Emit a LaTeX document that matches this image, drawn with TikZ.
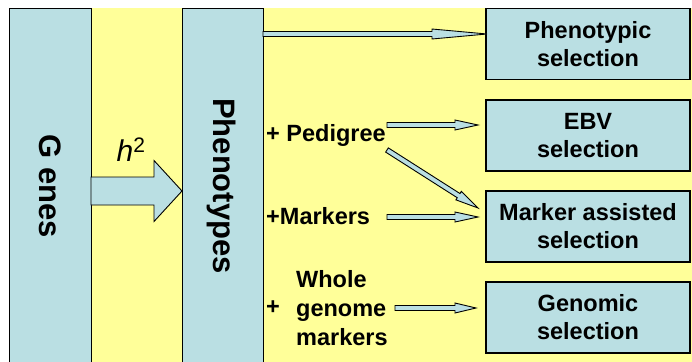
\documentclass[tikz,border=0pt]{standalone}
\usepackage{fontspec}
\setmainfont{Liberation Sans}
\usetikzlibrary{calc}
\definecolor{bgyellow}{RGB}{255,255,153}
\definecolor{boxblue}{RGB}{186,223,227}
% block arrow: from, to, shaft half width, head half width, head length
\newcommand\blockarr[5]{%
  \coordinate (hb) at ($(#2)!#5!(#1)$);
  \path[barrow] ($(#1)!#3!90:(#2)$) -- ($(hb)!#3!90:(#2)$) -- ($(hb)!#4!90:(#2)$)
    -- (#2) -- ($(hb)!#4!-90:(#2)$) -- ($(hb)!#3!-90:(#2)$) -- ($(#1)!#3!-90:(#2)$) -- cycle;}
\begin{document}
\begin{tikzpicture}[x=1pt,y=-1pt,
  panel/.style={draw=black,fill=boxblue,line width=1.2pt,inner sep=0pt},
  sel/.style={panel,minimum width=204pt,minimum height=71pt,align=center,
    font=\fontsize{23.5}{28}\selectfont\bfseries},
  vlabel/.style={rotate=-90,font=\fontsize{31}{33}\selectfont\bfseries},
  lbl/.style={anchor=west,inner sep=0pt,font=\fontsize{23.5}{29}\selectfont\bfseries,align=left},
  barrow/.style={draw=black,fill=boxblue,line width=0.9pt,line join=miter}]
\useasboundingbox (0,0) rectangle (692,361);
\clip (0,0) rectangle (692,361);
\fill[bgyellow] (9,8) rectangle (692,362);
% columns
\node[panel,anchor=north west,minimum width=82pt,minimum height=356pt] (genes) at (9,8) {};
\node[vlabel] (geneslbl) at (50,186) {G enes};
\node[panel,anchor=north west,minimum width=81pt,minimum height=356pt] (pheno) at (182,8) {};
\node[vlabel] (phenolbl) at (222,186) {Phenotypes};
% selection boxes
\node[sel] (phensel) at (588,44) {Phenotypic\\selection};
\node[sel] (ebvsel) at (588,135.5) {EBV\\selection};
\node[sel] (massel) at (588,226.5) {Marker assisted\\selection};
\node[sel] (gensel) at (588,317.5) {Genomic\\selection};
% labels
\node[lbl] (ped) at (266,135) {+ Pedigree};
\node[lbl] (mark) at (266,216) {+Markers};
\node[lbl] (plus3) at (266,308) {+};
\node[lbl] (whole) at (296,308) {Whole\\genome\\markers};
\node (h2) at (131,150) {\fontsize{30}{32}\selectfont{\itshape h}\textsuperscript{2}};
% connector end points
\coordinate (g0) at (91,191);
\coordinate (g1) at (182,191);
\coordinate (p0) at (263,34);
\coordinate (p1) at (487,34);
\coordinate (e0) at (387,125);
\coordinate (e1) at (478,125);
\coordinate (d0) at (387,150);
\coordinate (d1) at (478,208);
\coordinate (m0) at (387,217);
\coordinate (m1) at (478,217);
\coordinate (w0) at (395,308);
\coordinate (w1) at (476,308);
% arrows
\blockarr{g0}{g1}{14pt}{30.5pt}{28pt}
\blockarr{p0}{p1}{2.5pt}{5pt}{55pt}
\blockarr{e0}{e1}{2.5pt}{5pt}{23pt}
\blockarr{d0}{d1}{2.5pt}{5pt}{23pt}
\blockarr{m0}{m1}{2.5pt}{5pt}{23pt}
\blockarr{w0}{w1}{2.5pt}{5pt}{21pt}
\end{tikzpicture}
\end{document}
